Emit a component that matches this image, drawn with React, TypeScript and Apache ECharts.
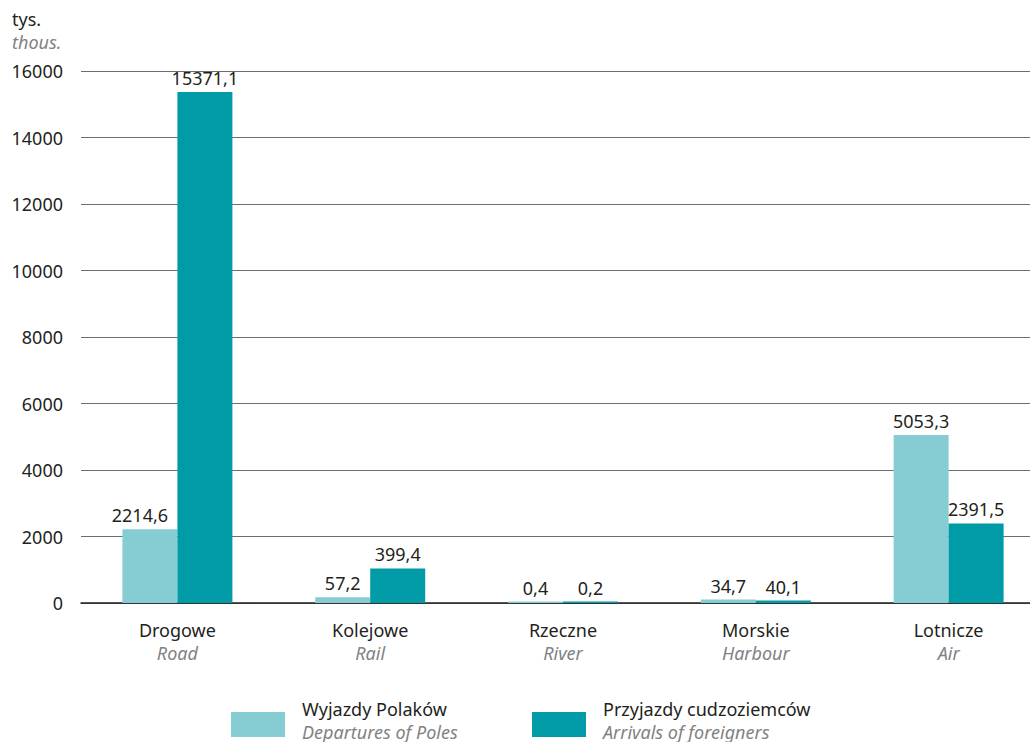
import React, { useEffect, useRef } from "react";
import * as echarts from "echarts";

const categoriesPl = ["Drogowe", "Kolejowe", "Rzeczne", "Morskie", "Lotnicze"];
const categoriesEn = ["Road", "Rail", "River", "Harbour", "Air"];
// values printed above the bars
const departures = [2214.6, 57.2, 0.4, 34.7, 5053.3];
const arrivals = [15371.1, 399.4, 0.2, 40.1, 2391.5];
// bar heights as drawn in the reference
const departuresBar = [2214.6, 170, 45, 105, 5053.3];
const arrivalsBar = [15371.1, 1040, 45, 75, 2391.5];
const seriesNamesPl = ["Wyjazdy Polaków", "Przyjazdy cudzoziemców"];
const seriesNamesEn = ["Departures of Poles", "Arrivals of foreigners"];
const yTicks = [0, 2000, 4000, 6000, 8000, 10000, 12000, 14000, 16000];

const FONT = "'Noto Sans', sans-serif";
const DARK = "#231f20";
const GREY = "#808285";
const LIGHT_BAR = "#86cdd3";
const DARK_BAR = "#009ba7";

const fmt = (v: number) => v.toFixed(1).replace(".", ",");

export default function App() {
  const ref = useRef<HTMLDivElement>(null);
  useEffect(() => {
    if (!ref.current) return;
    const chart = echarts.init(ref.current, undefined, { renderer: "svg" });
    const legendRich = {
      a: { fontFamily: FONT, fontSize: 18, color: DARK, lineHeight: 23, padding: [0, 0, 0, 12] },
      b: { fontFamily: FONT, fontSize: 18, color: GREY, fontStyle: "italic", lineHeight: 23, padding: [0, 0, 0, 12] },
    };
    const makeLegend = (i: number, left: number) => ({
      data: [seriesNamesPl[i]],
      left,
      top: 700,
      padding: 0,
      itemWidth: 54,
      itemHeight: 25,
      icon: "rect",
      selectedMode: false,
      formatter: () => `{a|${seriesNamesPl[i]}}\n{b|${seriesNamesEn[i]}}`,
      textStyle: { padding: [0, 0, 8, 0], rich: legendRich },
    });
    const depData = departuresBar.map((v, i) =>
      i === 0 ? { value: v, label: { offset: [-10, 0] } } : v
    );
    chart.setOption({
      animation: false,
      textStyle: { fontFamily: FONT },
      grid: { left: 81, right: 5, top: 71, bottom: 742 - 603, containLabel: false },
      legend: [makeLegend(0, 231), makeLegend(1, 532)],
      graphic: [
        {
          type: "text",
          left: 12,
          top: -23,
          style: {
            text: "Persons crossing the border by type of border crossing points",
            font: `italic 20px ${FONT}`,
            fill: "#3fc0cb",
          },
        },
        {
          type: "text",
          left: 12,
          top: 10,
          style: { text: "tys.", font: `18px ${FONT}`, fill: DARK },
        },
        {
          type: "text",
          left: 12,
          top: 33,
          style: { text: "thous.", font: `italic 18px ${FONT}`, fill: GREY },
        },
      ],
      xAxis: {
        type: "category",
        data: categoriesPl,
        axisLine: { lineStyle: { color: DARK, width: 1.5 } },
        axisTick: { show: false },
        axisLabel: {
          margin: 15,
          formatter: (v: string, i: number) => `{a|${v}}\n{b|${categoriesEn[i]}}`,
          rich: {
            a: { fontFamily: FONT, fontSize: 18, color: DARK, lineHeight: 23 },
            b: { fontFamily: FONT, fontSize: 18, color: GREY, fontStyle: "italic", lineHeight: 23 },
          },
        },
      },
      yAxis: {
        type: "value",
        min: yTicks[0],
        max: yTicks[yTicks.length - 1],
        interval: yTicks[1] - yTicks[0],
        axisLine: { show: false },
        axisTick: { show: false },
        axisLabel: {
          margin: 18,
          fontFamily: FONT,
          fontSize: 18,
          color: DARK,
          formatter: (v: number) => String(v),
        },
        splitLine: { lineStyle: { color: "#6d6e71", width: 1 } },
      },
      series: [
        {
          name: seriesNamesPl[0],
          type: "bar",
          data: depData,
          barWidth: 55,
          barGap: "0%",
          itemStyle: { color: LIGHT_BAR },
          label: {
            show: true,
            position: "top",
            distance: 5,
            fontFamily: FONT,
            fontSize: 18,
            color: DARK,
            formatter: (p: any) => fmt(departures[p.dataIndex]),
          },
        },
        {
          name: seriesNamesPl[1],
          type: "bar",
          data: arrivalsBar,
          barWidth: 55,
          barGap: "0%",
          itemStyle: { color: DARK_BAR },
          label: {
            show: true,
            position: "top",
            distance: 5,
            fontFamily: FONT,
            fontSize: 18,
            color: DARK,
            formatter: (p: any) => fmt(arrivals[p.dataIndex]),
          },
        },
      ],
    });
    return () => chart.dispose();
  }, []);
  return (
    <div style={{ position: "fixed", left: 0, top: 0, width: 1030, height: 742, overflow: "hidden", background: "#fff" }}>
      <div ref={ref} style={{ width: 1050, height: 742 }} />
    </div>
  );
}
